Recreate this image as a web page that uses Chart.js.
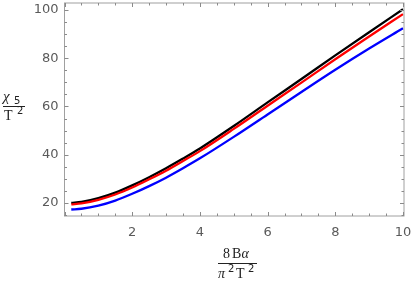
<!DOCTYPE html>
<html>
<head>
<meta charset="utf-8">
<script src="https://cdn.jsdelivr.net/npm/chart.js@4/dist/chart.umd.min.js"></script>
<style>
  html, body { margin: 0; padding: 0; background: #fff; }
</style>
</head>
<body>
<canvas id="grafico" width="414" height="288"></canvas>
<script>
// datos
const valoresX   = [0.2, 0.5, 1, 1.5, 2, 2.5, 3, 3.5, 4, 5, 6, 7, 8, 9, 10];
const serieNegra = [20.0, 20.4, 22.0, 24.3, 27.3, 30.7, 34.4, 38.4, 42.6, 51.9, 61.7, 71.4, 81.2, 90.8, 100.3];
const serieRoja  = [19.4, 19.8, 21.3, 23.5, 26.4, 29.8, 33.4, 37.4, 41.5, 50.7, 60.3, 69.9, 79.6, 89.0, 98.3];
const serieAzul  = [17.3, 17.6, 18.9, 21.0, 23.8, 27.0, 30.5, 34.4, 38.5, 47.4, 56.7, 66.0, 75.2, 84.0, 92.4];
const ticksX = [2, 4, 6, 8, 10];
const ticksY = [20, 40, 60, 80, 100];

const puntos = serie => valoresX.map((x, i) => ({ x: x, y: serie[i] }));

/* =========================
   MARCO Y MARCAS HACIA DENTRO
   ========================= */
const marcoPlugin = {
    id: "marco",
    afterDatasetsDraw(chart) {
        const { ctx, chartArea: a, scales } = chart;
        ctx.save();
        ctx.strokeStyle = "#a0a0a0";
        ctx.lineWidth = 1;
        ctx.strokeRect(a.left, a.top, a.right - a.left, a.bottom - a.top);

        ctx.strokeStyle = "#8a8a8a";
        ctx.beginPath();
        for (let v = 0; v <= 10.001; v += 0.5) {
            const px = Math.round(scales.x.getPixelForValue(v)) + 0.5;
            if (px < a.left || px > a.right) continue;
            const largo = Math.abs(v % 2) < 0.01 ? 4 : 2.5;
            ctx.moveTo(px, a.bottom); ctx.lineTo(px, a.bottom - largo);
            ctx.moveTo(px, a.top); ctx.lineTo(px, a.top + largo);
        }
        for (let v = 15; v <= 100; v += 5) {
            const py = Math.round(scales.y.getPixelForValue(v)) + 0.5;
            const largo = v % 20 === 0 ? 4 : 2.5;
            ctx.moveTo(a.left, py); ctx.lineTo(a.left + largo, py);
            ctx.moveTo(a.right, py); ctx.lineTo(a.right - largo, py);
        }
        ctx.stroke();
        ctx.restore();
    }
};

/* =========================
   TITULOS EN FORMA DE FRACCION
   ========================= */
const titulosPlugin = {
    id: "titulos",
    afterDraw(chart) {
        const ctx = chart.ctx;
        ctx.save();
        ctx.fillStyle = "#222";
        ctx.strokeStyle = "#222";
        ctx.lineWidth = 1;
        ctx.textBaseline = "alphabetic";

        // eje y: chi_5 / T^2
        ctx.font = "italic 15px 'Liberation Serif'";
        ctx.fillText("\u03C7", 3, 101);
        ctx.font = "10px 'DejaVu Sans'";
        ctx.fillText("5", 14, 104);
        ctx.beginPath(); ctx.moveTo(3, 106.5); ctx.lineTo(25, 106.5); ctx.stroke();
        ctx.font = "14px 'Liberation Serif'";
        ctx.fillText("T", 4, 119.5);
        ctx.font = "10px 'DejaVu Sans'";
        ctx.fillText("2", 17, 113.5);

        // eje x: 8 B alpha / pi^2 T^2
        ctx.font = "14px 'Liberation Serif'";
        ctx.fillText("8", 223, 257.5);
        ctx.fillText("B", 232, 257.5);
        ctx.font = "italic 14px 'Liberation Serif'";
        ctx.fillText("\u03B1", 241.5, 257.5);
        ctx.beginPath(); ctx.moveTo(218, 263.5); ctx.lineTo(257, 263.5); ctx.stroke();
        ctx.fillText("\u03C0", 218, 277.5);
        ctx.font = "14px 'Liberation Serif'";
        ctx.fillText("T", 236, 277.5);
        ctx.font = "10px 'DejaVu Sans'";
        ctx.fillText("2", 228, 271.5);
        ctx.fillText("2", 248, 271.5);
        ctx.restore();
    }
};

const fuenteTicks = { family: "'DejaVu Sans'", size: 13 };

new Chart(document.getElementById("grafico"), {
    type: "line",
    data: {
        datasets: [
            { data: puntos(serieAzul),  borderColor: "#0000ff" },
            { data: puntos(serieRoja),  borderColor: "#ff0000" },
            { data: puntos(serieNegra), borderColor: "#000000" }
        ].map(d => Object.assign(d, {
            borderWidth: 2.3,
            pointRadius: 0,
            fill: false,
            cubicInterpolationMode: "monotone"
        }))
    },
    options: {
        responsive: false,
        animation: false,
        devicePixelRatio: 1,
        layout: { padding: { top: 3, right: 10, left: 0, bottom: 0 } },
        plugins: { legend: { display: false }, tooltip: { enabled: false } },
        scales: {
            x: {
                type: "linear",
                min: 0,
                max: 10.03,
                afterFit(s) { s.height = 72; s.paddingLeft = 0; s.paddingRight = 0; },
                afterBuildTicks(s) { s.ticks = ticksX.map(v => ({ value: v })); },
                grid: { display: false, drawTicks: false },
                border: { display: false },
                ticks: { color: "#5a5a5a", font: fuenteTicks, padding: 9, maxRotation: 0, autoSkip: false }
            },
            y: {
                type: "linear",
                min: 14.6,
                max: 102.9,
                afterFit(s) { s.width = 64.5; s.paddingTop = 0; s.paddingBottom = 0; },
                afterBuildTicks(s) { s.ticks = ticksY.map(v => ({ value: v })); },
                grid: { display: false, drawTicks: false },
                border: { display: false },
                ticks: { color: "#5a5a5a", font: fuenteTicks, padding: 6, autoSkip: false }
            }
        }
    },
    plugins: [marcoPlugin, titulosPlugin]
});
</script>
</body>
</html>
